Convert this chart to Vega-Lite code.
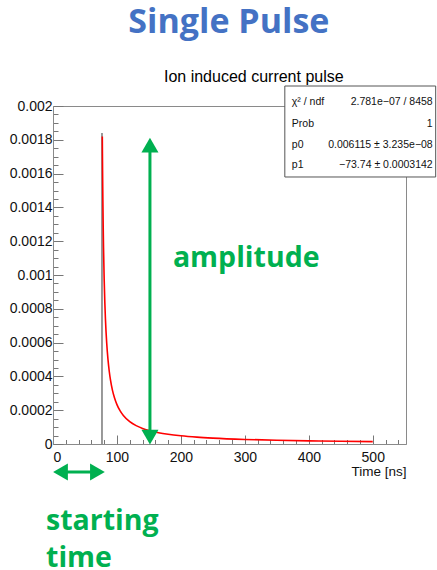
{
  "$schema": "https://vega.github.io/schema/vega-lite/v6.json",
  "autosize": {"type": "none"},
  "padding": {"left": 53, "top": 106, "right": 31, "bottom": 126},
  "width": 353,
  "height": 338,
  "background": "white",
  "config": {
    "view": {"stroke": "#8a8a8a", "strokeWidth": 1},
    "axis": {"grid": false, "domainColor": "#8a8a8a", "tickColor": "#777777", "labelColor": "#111111", "labelFont": "Liberation Sans", "titleFont": "Liberation Sans"}
  },
  "resolve": {"axis": {"x": "independent", "y": "independent"}},
  "layer": [
    {
      "data": {"values": [{"x": 76.6, "y": 0, "y2": 0.00184}]},
      "mark": {"type": "rule", "color": "#777777", "strokeWidth": 1.5},
      "encoding": {
        "x": {"field": "x", "type": "quantitative", "scale": {"domain": [0, 552], "nice": false, "zero": false},
          "axis": {"orient": "bottom", "values": [20,40,60,80,120,140,160,180,220,240,260,280,320,340,360,380,420,440,460,480,520,540], "labels": false, "domain": false, "tickSize": -4.5, "title": null}},
        "y": {"field": "y", "type": "quantitative", "scale": {"domain": [0, 0.002], "nice": false, "zero": false},
          "axis": {"orient": "left", "values": [0.00005,0.0001,0.00015,0.00025,0.0003,0.00035,0.00045,0.0005,0.00055,0.00065,0.0007,0.00075,0.00085,0.0009,0.00095,0.00105,0.0011,0.00115,0.00125,0.0013,0.00135,0.00145,0.0015,0.00155,0.00165,0.0017,0.00175,0.00185,0.0019,0.00195], "labels": false, "domain": false, "tickSize": -5, "title": null}},
        "y2": {"field": "y2"}
      }
    },
    {
      "data": {"values": [
        {"x": 77.1, "y": 0.00182},
        {"x": 77.3, "y": 0.001718},
        {"x": 77.5, "y": 0.001626},
        {"x": 77.75, "y": 0.001525},
        {"x": 78, "y": 0.001435},
        {"x": 78.5, "y": 0.001285},
        {"x": 79, "y": 0.001163},
        {"x": 80, "y": 0.000977},
        {"x": 81, "y": 0.000842},
        {"x": 82, "y": 0.00074},
        {"x": 84, "y": 0.000596},
        {"x": 86, "y": 0.000499},
        {"x": 88, "y": 0.000429},
        {"x": 90, "y": 0.000376},
        {"x": 93, "y": 0.000317},
        {"x": 96, "y": 0.000275},
        {"x": 100, "y": 0.000233},
        {"x": 105, "y": 0.0001956},
        {"x": 110, "y": 0.0001686},
        {"x": 120, "y": 0.0001322},
        {"x": 130, "y": 0.0001087},
        {"x": 140, "y": 0.0000923},
        {"x": 150, "y": 0.0000802},
        {"x": 165, "y": 0.000067},
        {"x": 180, "y": 0.0000575},
        {"x": 200, "y": 0.0000484},
        {"x": 225, "y": 0.0000404},
        {"x": 250, "y": 0.0000347},
        {"x": 300, "y": 0.000027},
        {"x": 350, "y": 0.0000221},
        {"x": 400, "y": 0.0000187},
        {"x": 450, "y": 0.0000163},
        {"x": 500, "y": 0.0000143}
      ]},
      "mark": {"type": "line", "color": "#ff0000", "strokeWidth": 1.6, "interpolate": "monotone"},
      "encoding": {
        "x": {"field": "x", "type": "quantitative", "scale": {"domain": [0, 552], "nice": false, "zero": false},
          "axis": {"orient": "bottom", "values": [0,100,200,300,400,500], "format": "d", "tickSize": -9, "labelPadding": 15, "labelFontSize": 14,
            "title": "Time [ns]", "titleFontSize": 13.5, "titleFontWeight": "normal", "titleColor": "#111111", "titleAlign": "right", "titleAnchor": "end", "titleBaseline": "alphabetic", "titleX": 353, "titleY": 31}},
        "y": {"field": "y", "type": "quantitative", "scale": {"domain": [0, 0.002], "nice": false, "zero": false},
          "axis": {"orient": "left", "values": [0,0.0002,0.0004,0.0006,0.0008,0.001,0.0012,0.0014,0.0016,0.0018,0.002], "format": "~g", "tickSize": -10, "labelPadding": 11, "labelFontSize": 14, "title": null}}
      }
    },
    {
      "data": {"values": [{"x": 151.6, "y": 0.00176, "y2": 0.00005}]},
      "mark": {"type": "rule", "color": "#00B050", "strokeWidth": 3},
      "encoding": {
        "x": {"field": "x", "type": "quantitative", "scale": {"domain": [0, 552], "nice": false, "zero": false}, "axis": null},
        "y": {"field": "y", "type": "quantitative", "scale": {"domain": [0, 0.002], "nice": false, "zero": false}, "axis": null},
        "y2": {"field": "y2"}
      }
    },
    {
      "data": {"values": [{"x": 11, "x2": 70, "y": -0.0001657}]},
      "mark": {"type": "rule", "color": "#00B050", "strokeWidth": 3},
      "encoding": {
        "x": {"field": "x", "type": "quantitative", "scale": {"domain": [0, 552], "nice": false, "zero": false}, "axis": null},
        "x2": {"field": "x2"},
        "y": {"field": "y", "type": "quantitative", "scale": {"domain": [0, 0.002], "nice": false, "zero": false}, "axis": null}
      }
    },
    {
      "data": {"values": [
        {"x": 151.6, "y": 0.0017692, "dir": "up"},
        {"x": 151.6, "y": 0.0000414, "dir": "down"},
        {"x": 11.7, "y": -0.0001657, "dir": "left"},
        {"x": 69.5, "y": -0.0001657, "dir": "right"}
      ]},
      "mark": {"type": "point", "filled": true, "color": "#00B050", "size": 290, "opacity": 1},
      "encoding": {
        "x": {"field": "x", "type": "quantitative", "scale": {"domain": [0, 552], "nice": false, "zero": false}, "axis": null},
        "y": {"field": "y", "type": "quantitative", "scale": {"domain": [0, 0.002], "nice": false, "zero": false}, "axis": null},
        "shape": {"field": "dir", "type": "nominal", "scale": {"domain": ["up", "down", "left", "right"], "range": ["triangle-up", "triangle-down", "triangle-left", "triangle-right"]}, "legend": null}
      }
    },
    {
      "data": {"values": [
        {"x": 187.5, "y": 0.0010473, "text": "amplitude"},
        {"x": -10.9, "y": -0.000509, "text": "starting"},
        {"x": -10.9, "y": -0.000728, "text": "time"}
      ]},
      "mark": {"type": "text", "font": "Open Sans", "fontSize": 28.5, "fontWeight": "bold", "color": "#00B050", "align": "left", "baseline": "alphabetic"},
      "encoding": {
        "x": {"field": "x", "type": "quantitative", "scale": {"domain": [0, 552], "nice": false, "zero": false}, "axis": null},
        "y": {"field": "y", "type": "quantitative", "scale": {"domain": [0, 0.002], "nice": false, "zero": false}, "axis": null},
        "text": {"field": "text"}
      }
    },
    {
      "data": {"values": [{"x": 275, "y": 0.002432, "text": "Single Pulse"}]},
      "mark": {"type": "text", "font": "Open Sans", "fontSize": 34, "fontWeight": "bold", "color": "#4472C4", "align": "center", "baseline": "alphabetic"},
      "encoding": {
        "x": {"field": "x", "type": "quantitative", "scale": {"domain": [0, 552], "nice": false, "zero": false}, "axis": null},
        "y": {"field": "y", "type": "quantitative", "scale": {"domain": [0, 0.002], "nice": false, "zero": false}, "axis": null},
        "text": {"field": "text"}
      }
    },
    {
      "data": {"values": [{"x": 314, "y": 0.002142, "text": "Ion induced current pulse"}]},
      "mark": {"type": "text", "font": "Liberation Sans", "fontSize": 16, "color": "#000000", "align": "center", "baseline": "alphabetic"},
      "encoding": {
        "x": {"field": "x", "type": "quantitative", "scale": {"domain": [0, 552], "nice": false, "zero": false}, "axis": null},
        "y": {"field": "y", "type": "quantitative", "scale": {"domain": [0, 0.002], "nice": false, "zero": false}, "axis": null},
        "text": {"field": "text"}
      }
    },
    {
      "data": {"values": [{"x": 362.5, "x2": 598.4, "y": 0.0021183, "y2": 0.0015799}]},
      "mark": {"type": "rect", "fill": "white", "stroke": "#555555", "strokeWidth": 1},
      "encoding": {
        "x": {"field": "x", "type": "quantitative", "scale": {"domain": [0, 552], "nice": false, "zero": false}, "axis": null},
        "x2": {"field": "x2"},
        "y": {"field": "y", "type": "quantitative", "scale": {"domain": [0, 0.002], "nice": false, "zero": false}, "axis": null},
        "y2": {"field": "y2"}
      }
    },
    {
      "data": {"values": [
        {"x": 373.4, "x2": 593.75, "y": 0.0020237, "label": "χ² / ndf", "value": "2.781e−07 / 8458"},
        {"x": 373.4, "x2": 593.75, "y": 0.0018935, "label": "Prob", "value": "1"},
        {"x": 373.4, "x2": 593.75, "y": 0.0017692, "label": "p0", "value": "0.006115 ± 3.235e−08"},
        {"x": 373.4, "x2": 593.75, "y": 0.0016509, "label": "p1", "value": "−73.74 ± 0.0003142"}
      ]},
      "layer": [
        {
          "mark": {"type": "text", "font": "Liberation Sans", "fontSize": 10.5, "color": "#111111", "align": "left", "baseline": "middle"},
          "encoding": {
            "x": {"field": "x", "type": "quantitative", "scale": {"domain": [0, 552], "nice": false, "zero": false}, "axis": null},
            "y": {"field": "y", "type": "quantitative", "scale": {"domain": [0, 0.002], "nice": false, "zero": false}, "axis": null},
            "text": {"field": "label"}
          }
        },
        {
          "mark": {"type": "text", "font": "Liberation Sans", "fontSize": 10.5, "color": "#111111", "align": "right", "baseline": "middle"},
          "encoding": {
            "x": {"field": "x2", "type": "quantitative", "scale": {"domain": [0, 552], "nice": false, "zero": false}, "axis": null},
            "y": {"field": "y", "type": "quantitative", "scale": {"domain": [0, 0.002], "nice": false, "zero": false}, "axis": null},
            "text": {"field": "value"}
          }
        }
      ]
    }
  ]
}
